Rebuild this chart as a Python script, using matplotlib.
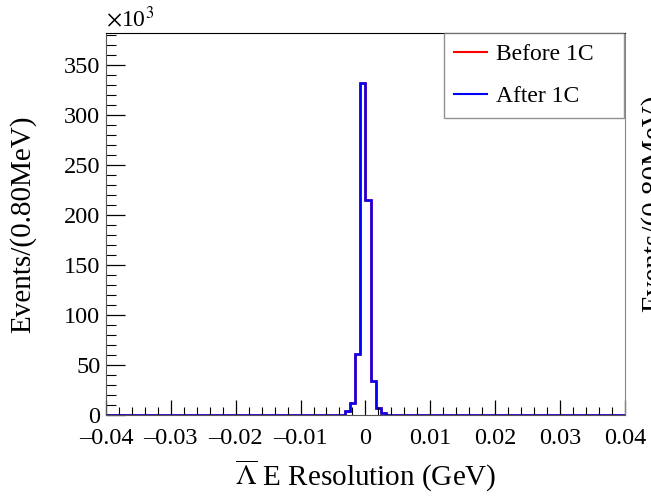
import matplotlib
matplotlib.use("Agg")
import matplotlib.pyplot as plt
import numpy as np
from matplotlib.ticker import MultipleLocator, FuncFormatter

plt.rcParams["font.family"] = ["Liberation Serif", "DejaVu Serif"]
plt.rcParams["mathtext.fontset"] = "stix"

# histogram: 100 bins of 0.8 MeV from -0.04 to 0.04 GeV
n_bins = 100
x_lo, x_hi = -0.04, 0.04
# non-empty bins (index into the 100 bins) and contents in units of 10^3
filled_bins = [46, 47, 48, 49, 50, 51, 52, 53]
after_counts = [3.5, 12, 61, 332, 215, 34, 7, 2]
before_counts = [3.5, 12, 61, 332, 215, 34, 7, 2]

y_max = 381.5
series_labels = ["Before 1C", "After 1C"]
series_colors = ["red", "blue"]


def fill_hist(values):
    h = np.zeros(n_bins)
    h[filled_bins] = values
    return h


def main():
    edges = np.linspace(x_lo, x_hi, n_bins + 1)

    fig = plt.figure(figsize=(6.51, 4.96), dpi=100)
    ax = fig.add_axes([0.1628, 0.1633, 0.797, 0.770])

    ax.stairs(fill_hist(before_counts), edges, color=series_colors[0], lw=1.8,
              baseline=None, label=series_labels[0])
    ax.stairs(fill_hist(after_counts), edges, color=series_colors[1], lw=1.8,
              baseline=None, label=series_labels[1])

    ax.set_xlim(x_lo, x_hi)
    ax.set_ylim(0, y_max)

    ax.xaxis.set_major_locator(MultipleLocator(0.01))
    ax.xaxis.set_minor_locator(MultipleLocator(0.002))
    ax.yaxis.set_major_locator(MultipleLocator(50))
    ax.yaxis.set_minor_locator(MultipleLocator(10))
    ax.xaxis.set_major_formatter(FuncFormatter(
        lambda v, p: "0" if abs(v) < 1e-9 else f"{v:.2f}".replace("-", "\u2013")))

    ax.tick_params(which="both", direction="in", labelsize=17.5, top=False, right=False)
    ax.tick_params(which="major", length=11, width=0.9)
    ax.tick_params(which="minor", length=6, width=0.8)
    ax.tick_params(axis="x", which="major", pad=9)
    ax.tick_params(axis="y", which="major", length=14, pad=4)
    ax.tick_params(axis="y", which="minor", length=7)

    for side in ["left", "bottom"]:
        ax.spines[side].set_color("#555555")
    ax.spines["top"].set_color("black")
    ax.spines["right"].set_color("#888888")

    ax.text(0.0, 1.003, r"$\times$10$^3$", transform=ax.transAxes, fontsize=17,
            ha="left", va="bottom")

    ax.set_ylabel("Events/(0.80MeV)", fontsize=21)
    ax.yaxis.set_label_coords(-0.135, 0.5)
    ax.set_xlabel(r"$\overline{\Lambda}$ E Resolution (GeV)", fontsize=21)
    ax.xaxis.set_label_coords(0.5, -0.11)

    # legend box stretched over the top-right corner, entries left aligned
    leg = ax.legend(loc="upper left", bbox_to_anchor=(0.651, 0.78, 0.347, 0.22),
                    mode="expand", borderaxespad=0,
                    fontsize=17, frameon=True, fancybox=False, handlelength=1.4,
                    labelspacing=0.87, borderpad=0.45, handletextpad=0.35)
    leg.get_frame().set_edgecolor("#777777")
    leg.get_frame().set_linewidth(1.0)
    for line in leg.get_lines():
        line.set_linewidth(1.5)

    # neighbouring panel's axis title, cut off at the right edge
    fig.text(0.983, 0.59, "Events/(0.80MeV)", rotation=90, fontsize=21,
             ha="left", va="center")

    fig.savefig("out.png", dpi=100)
    plt.close(fig)


if __name__ == "__main__":
    main()
